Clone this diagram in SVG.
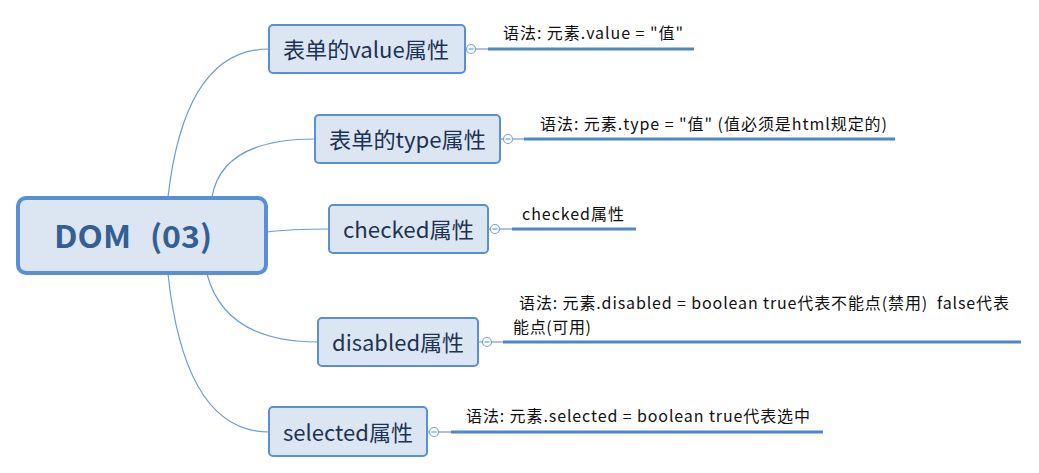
<svg xmlns="http://www.w3.org/2000/svg" width="1039" height="473" viewBox="0 0 1039 473">
<style>
.bg{fill:#ffffff}
.node rect{fill:#dce6f2;stroke:#5b8fd4;stroke-width:2}
.root rect{fill:#dce6f2;stroke:#5a8fd5;stroke-width:4}
.nt{font-family:"Noto Sans CJK SC","Noto Sans",sans-serif;font-size:22px;fill:#1c3353}
.rt{font-family:"Noto Sans CJK SC","Noto Sans",sans-serif;font-size:31px;font-weight:bold;fill:#345f93}
.lt{font-family:"Noto Sans CJK SC","Noto Sans",sans-serif;font-size:16px;fill:#111111}
.conn path{fill:none;stroke:#6d9bd6;stroke-width:1.2}
.thin{stroke:#6d9bd6;stroke-width:1.2}
.thick{stroke:#4f86c8;stroke-width:3}
.knob{fill:#ffffff;stroke:#7aa3da;stroke-width:1.2}
</style>
<rect class="bg" x="0" y="0" width="1039" height="473"/>
<g id="connectors" class="conn">
<path d="M168,197 Q185,49 269,49"/>
<path d="M212,197 Q222,139 315,139"/>
<path d="M267,232 Q290,229 329,229"/>
<path d="M207,274 Q225,342 318,342"/>
<path d="M168,274 Q185,432 269,432"/>
</g>
<g id="root" class="root">
<rect x="18" y="198" width="248" height="75" rx="8"/>
<text class="rt" y="248" xml:space="preserve"><tspan x="54" textLength="77" lengthAdjust="spacingAndGlyphs">DOM</tspan><tspan x="150" textLength="62" lengthAdjust="spacingAndGlyphs">(03)</tspan></text>
</g>
<g id="n-value" class="node">
<rect x="269" y="25" width="196" height="48" rx="4"/>
<text class="nt" x="283" y="58" textLength="166" lengthAdjust="spacingAndGlyphs">表单的value属性</text>
<line class="thin" x1="465" y1="49" x2="488" y2="49"/>
<circle class="knob" cx="471" cy="49" r="4.5"/>
<line class="thin" x1="468.5" y1="49" x2="473.5" y2="49"/>
<line class="thick" x1="488" y1="49" x2="694" y2="49"/>
<text class="lt" x="503" y="39" textLength="180" lengthAdjust="spacing" xml:space="preserve">语法: 元素.value = "值"</text>
</g>
<g id="n-type" class="node">
<rect x="315" y="115" width="185" height="48" rx="4"/>
<text class="nt" x="329" y="148" textLength="157" lengthAdjust="spacingAndGlyphs">表单的type属性</text>
<line class="thin" x1="500" y1="139" x2="524" y2="139"/>
<circle class="knob" cx="508" cy="139" r="4.5"/>
<line class="thin" x1="505.5" y1="139" x2="510.5" y2="139"/>
<line class="thick" x1="524" y1="139" x2="895" y2="139"/>
<text class="lt" x="540" y="130" textLength="347" lengthAdjust="spacing" xml:space="preserve">语法: 元素.type = "值" (值必须是html规定的)</text>
</g>
<g id="n-checked" class="node">
<rect x="329" y="205" width="159" height="48" rx="4"/>
<text class="nt" x="343" y="238" textLength="131" lengthAdjust="spacingAndGlyphs">checked属性</text>
<line class="thin" x1="488" y1="229" x2="512" y2="229"/>
<circle class="knob" cx="495" cy="229" r="4.5"/>
<line class="thin" x1="492.5" y1="229" x2="497.5" y2="229"/>
<line class="thick" x1="512" y1="229" x2="636" y2="229"/>
<text class="lt" x="522" y="220" textLength="102" lengthAdjust="spacing">checked属性</text>
</g>
<g id="n-disabled" class="node">
<rect x="318" y="318" width="160" height="48" rx="4"/>
<text class="nt" x="332" y="351" textLength="132" lengthAdjust="spacingAndGlyphs">disabled属性</text>
<line class="thin" x1="478" y1="342" x2="503" y2="342"/>
<circle class="knob" cx="487" cy="342" r="4.5"/>
<line class="thin" x1="484.5" y1="342" x2="489.5" y2="342"/>
<line class="thick" x1="503" y1="342" x2="1021" y2="342"/>
<text class="lt" x="519" y="309" textLength="490" lengthAdjust="spacing" xml:space="preserve">语法: 元素.disabled = boolean true代表不能点(禁用)  false代表</text>
<text class="lt" x="513" y="333" textLength="78" lengthAdjust="spacing">能点(可用)</text>
</g>
<g id="n-selected" class="node">
<rect x="269" y="407" width="158" height="49" rx="4"/>
<text class="nt" x="283" y="441" textLength="130" lengthAdjust="spacingAndGlyphs">selected属性</text>
<line class="thin" x1="427" y1="432" x2="451" y2="432"/>
<circle class="knob" cx="434" cy="432" r="4.5"/>
<line class="thin" x1="431.5" y1="432" x2="436.5" y2="432"/>
<line class="thick" x1="451" y1="432" x2="823" y2="432"/>
<text class="lt" x="466" y="422" textLength="344" lengthAdjust="spacing" xml:space="preserve">语法: 元素.selected = boolean true代表选中</text>
</g>
</svg>
